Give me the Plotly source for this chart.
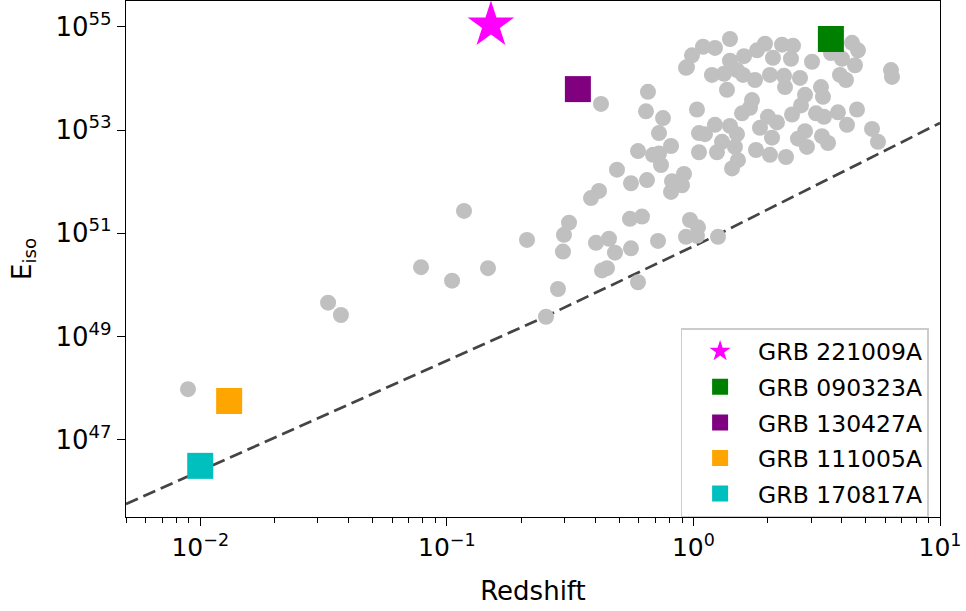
import math
import plotly.graph_objects as go

# Redshift and isotropic energy of the GRB sample (grey points)
sample_z = [
    0.00892, 0.0330, 0.0372, 0.0786, 0.1050, 0.1174, 0.1469, 0.2114, 0.2525, 0.2823,
    0.2958, 0.2986, 0.3130, 0.3843, 0.4141, 0.4026, 0.4546, 0.4808, 0.4259, 0.4463,
    0.4898, 0.5582, 0.6482, 0.5530, 0.6186, 0.5582, 0.5961, 0.7185, 0.8113, 0.8188,
    0.9158, 0.8990, 0.7388, 0.9685, 1.0438, 0.9331, 1.0339, 1.258, 0.4219, 0.6542,
    0.6422, 0.7527, 0.7252, 0.8113, 0.5961, 0.6857, 0.7252, 0.9419, 1.0339, 1.0534,
    1.0534, 1.407, 1.223, 1.0937, 0.9867, 0.9331, 1.407, 1.604, 1.811, 1.951,
    2.102, 2.287, 2.534, 2.487, 3.027, 1.189, 1.330, 1.502, 1.589, 1.777,
    1.368, 2.044, 2.330, 2.352, 2.705, 2.835, 1.728, 1.696, 1.574, 2.006,
    1.862, 2.182, 2.511, 2.731, 1.114, 1.223, 1.407, 1.502, 1.306, 1.246,
    1.474, 1.516, 1.794, 2.044, 2.083, 2.374, 2.656, 2.887, 1.434, 3.613,
    4.397, 4.650, 4.004, 4.521, 3.930, 4.156, 6.327, 6.387, 3.291, 3.353,
    3.141, 3.384, 3.857, 4.607, 4.196, 5.300, 5.604, 2.835, 3.321, 3.514,
]
sample_eiso = [
    9.5e47, 4.5e49, 2.6e49, 2.2e50, 1.2e50, 2.7e51, 2.1e50, 7.4e50, 2.4e49, 8.3e49,
    4.4e50, 9.3e50, 1.6e51, 4.8e51, 6.6e51, 6.5e50, 7.8e50, 4.2e50, 1.9e50, 2.1e50,
    1.7e52, 9.3e51, 1.07e52, 1.9e51, 2.1e51, 5.1e50, 1.12e50, 7.1e50, 6.3e51, 1.02e52,
    1.41e52, 8.5e51, 2.1e52, 1.8e51, 1.3e51, 8.5e50, 8.9e50, 8.5e50, 3.2e53, 5.5e53,
    2.3e53, 1.7e53, 8.7e52, 4.9e52, 3.9e52, 3.3e52, 3.5e52, 1.66e54, 2.5e53, 8.7e52,
    3.7e52, 5.8e54, 3.9e54, 4.1e54, 2.8e54, 1.6e54, 2.2e54, 2.7e54, 3.5e54, 4.7e54,
    2.5e54, 4.5e54, 4.3e54, 2.4e54, 2.1e54, 1.17e54, 1.23e54, 1.45e54, 1.17e54, 9.3e53,
    6.0e53, 1.17e54, 1.12e54, 6.8e53, 1.02e54, 4.8e53, 3.8e53, 2.7e53, 2.1e53, 1.8e53,
    1.1e53, 1.4e53, 2.0e53, 3.0e53, 8.3e52, 1.26e53, 1.2e53, 8.3e52, 5.9e52, 3.7e52,
    4.7e52, 2.6e52, 4.1e52, 3.3e52, 7.1e52, 3.0e52, 6.8e52, 4.7e52, 1.8e52, 3.1e54,
    4.9e54, 3.5e54, 2.4e54, 1.8e54, 1.17e54, 9.3e53, 1.45e54, 1.07e54, 6.8e53, 4.4e53,
    2.1e53, 1.8e53, 2.2e53, 2.5e53, 1.26e53, 1.05e53, 5.9e52, 9.5e52, 7.6e52, 5.6e52,
]

# Detection threshold curve (dashed)
limit_z = [0.005, 0.25, 1.20, 10.0]
limit_eiso = [5.65e45, 2.4e49, 8.43e50, 1.37e53]

# Highlighted bursts
grb_names = ["GRB 221009A", "GRB 090323A", "GRB 130427A", "GRB 111005A", "GRB 170817A"]
grb_z = [0.151, 3.61, 0.34, 0.0131, 0.0100]
grb_eiso = [1.08e55, 5.8e54, 6.2e53, 5.6e47, 3.1e46]
grb_symbols = ["star", "square", "square", "square", "square"]
grb_colors = ["#ff00ff", "#008000", "#800080", "#ffa500", "#00bfbf"]
grb_sizes = [35, 26, 26, 26, 26]

x_ticks = [0.01, 0.1, 1, 10]
x_ticktext = ["10<sup>\u22122</sup>", "10<sup>\u22121</sup>", "10<sup>0</sup>", "10<sup>1</sup>"]
y_exponents = [47, 49, 51, 53, 55]

FONT = "DejaVu Sans"

fig = go.Figure()

fig.add_trace(go.Scatter(
    x=limit_z, y=limit_eiso, mode="lines",
    line=dict(color="#444444", width=2.7, dash="13px,6px"),
    showlegend=False, hoverinfo="skip",
))

fig.add_trace(go.Scatter(
    x=sample_z, y=sample_eiso, mode="markers",
    marker=dict(color="#c0c0c0", size=16, line=dict(width=0)),
    showlegend=False,
))

for i, name in enumerate(grb_names):
    fig.add_trace(go.Scatter(
        x=[grb_z[i]], y=[grb_eiso[i]], mode="markers", name=name,
        legendgroup=name,
        marker=dict(symbol=grb_symbols[i], color=grb_colors[i], size=grb_sizes[i],
                    line=dict(width=0)),
    ))

minor_x = []
for d in [-3, -2, -1, 0]:
    for m in range(2, 10):
        v = m * 10 ** d
        if 0.005 <= v <= 10:
            minor_x.append(v)

fig.update_xaxes(
    type="log", range=[math.log10(0.005), 1],
    tickmode="array", tickvals=x_ticks, ticktext=x_ticktext,
    ticks="outside", ticklen=8, tickwidth=1.3, tickcolor="black",
    showline=True, linecolor="black", linewidth=1.3, mirror=True,
    showgrid=False, zeroline=False,
    tickfont=dict(family=FONT, size=25, color="black"),
    minor=dict(tickmode="array", tickvals=minor_x, ticks="outside",
               ticklen=4.5, tickwidth=1, tickcolor="black", showgrid=False),
    title=dict(text="Redshift", font=dict(family=FONT, size=26, color="black"), standoff=20),
)

fig.update_yaxes(
    type="log", range=[45.5, 55.5],
    tickmode="array", tickvals=[10.0 ** e for e in y_exponents],
    ticktext=[f"10<sup>{e}</sup>" for e in y_exponents],
    ticks="outside", ticklen=8, tickwidth=1.3, tickcolor="black",
    showline=True, linecolor="black", linewidth=1.3, mirror=True,
    showgrid=False, zeroline=False,
    tickfont=dict(family=FONT, size=26, color="black"),
    title=dict(text="E<sub>iso</sub>", font=dict(family=FONT, size=26, color="black"), standoff=16),
)

fig.update_layout(
    width=966, height=611,
    margin=dict(l=126, r=26, t=1, b=94),
    paper_bgcolor="white", plot_bgcolor="white",
    font=dict(family=FONT, color="black"),
    legend=dict(
        x=0.986, y=0.0, xanchor="right", yanchor="bottom",
        bgcolor="rgba(255,255,255,0.8)", bordercolor="#cccccc", borderwidth=1.5,
        font=dict(family=FONT, size=23.5, color="black"),
        itemsizing="trace", itemwidth=66, tracegroupgap=2,
    ),
)

fig.write_html("out.html")
